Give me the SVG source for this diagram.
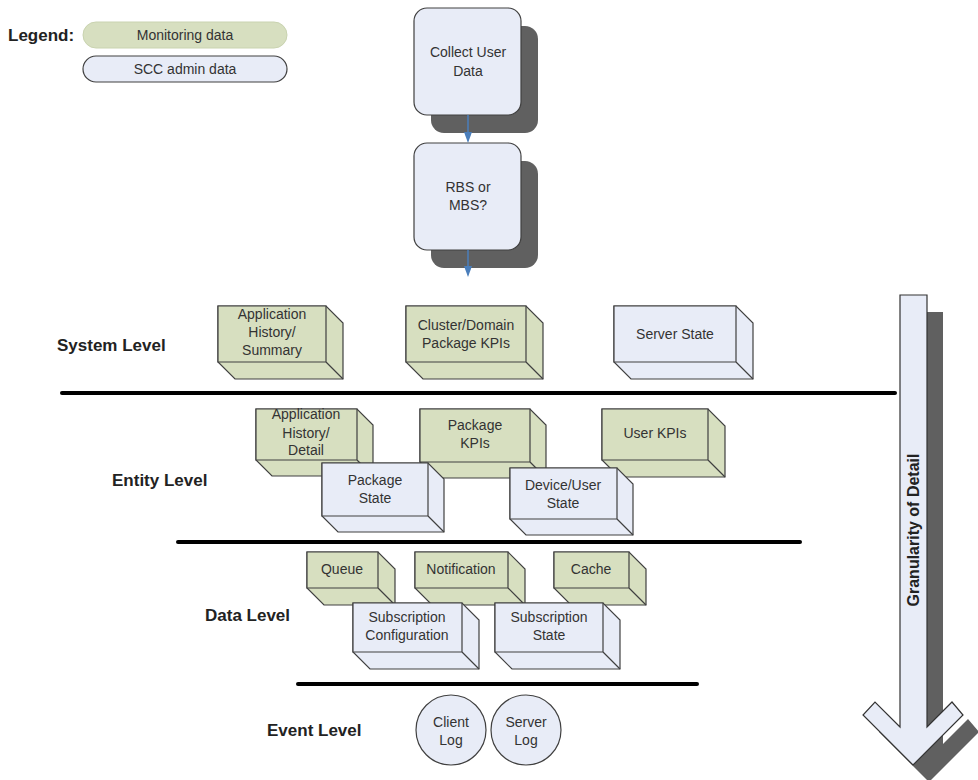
<svg xmlns="http://www.w3.org/2000/svg" width="978" height="780" viewBox="0 0 978 780">
<defs>
<style>
text{font-family:"Liberation Sans",Arial,sans-serif;fill:#333}
.bt{font-size:14px;text-anchor:middle}
.lv{font-size:17px;font-weight:bold;fill:#222}
.g{fill:#d7dfc0;stroke:#404040;stroke-width:1.2}
.b{fill:#e8ecf7;stroke:#404040;stroke-width:1.2}
.sh{fill:#606060}
.hl{stroke:#000;stroke-width:4;stroke-linecap:round}
.ar{stroke:#4a7ebb;stroke-width:1.5;fill:none}
.ah{fill:#4a7ebb}
</style>
</defs>
<rect width="978" height="780" fill="#fff"/>

<g id="legend">
<text x="8" y="41" class="lv">Legend:</text>
<rect x="83" y="22" width="204" height="26" rx="13" fill="#d7dfc0" stroke="#c9d3b0"/>
<text x="185" y="40" class="bt">Monitoring data</text>
<rect x="83" y="56" width="204" height="26" rx="13" class="b"/>
<text x="185" y="74" class="bt">SCC admin data</text>
</g>

<g id="levels">
<line x1="62" y1="393" x2="895" y2="393" class="hl"/>
<line x1="178" y1="542" x2="800" y2="542" class="hl"/>
<line x1="298" y1="684" x2="697" y2="684" class="hl"/>
<text x="57" y="351" class="lv">System Level</text>
<text x="112" y="486" class="lv">Entity Level</text>
<text x="205" y="621" class="lv">Data Level</text>
<text x="267" y="736" class="lv">Event Level</text>
</g>

<g id="collect">
<rect x="431" y="26" width="107" height="107" rx="13" class="sh"/>
<rect x="414" y="8" width="107" height="107" rx="13" class="b"/>
<text x="468" y="57" class="bt">Collect User</text>
<text x="468" y="76" class="bt">Data</text>
</g>
<g id="rbs">
<rect x="431" y="161" width="107" height="107" rx="13" class="sh"/>
<rect x="414" y="143" width="107" height="107" rx="13" class="b"/>
<text x="468" y="192" class="bt">RBS or</text>
<text x="468" y="210" class="bt">MBS?</text>
</g>

<g id="app-summary">
<path class="g" d="M218,306 H326 L343,323 V379 H235 L218,362 Z"/>
<path class="g" d="M218,306 H326 V362 H218 Z M326,362 L343,379"/>
<text x="272" y="319" class="bt">Application</text>
<text x="272" y="337" class="bt">History/</text>
<text x="272" y="355" class="bt">Summary</text>
</g>
<g id="cluster-kpis">
<path class="g" d="M406,306 H526 L543,323 V379 H423 L406,362 Z"/>
<path class="g" d="M406,306 H526 V362 H406 Z M526,362 L543,379"/>
<text x="466" y="330" class="bt">Cluster/Domain</text>
<text x="466" y="348" class="bt">Package KPIs</text>
</g>
<g id="server-state">
<path class="b" d="M614,306 H736 L753,323 V379 H631 L614,362 Z"/>
<path class="b" d="M614,306 H736 V362 H614 Z M736,362 L753,379"/>
<text x="675" y="339" class="bt">Server State</text>
</g>

<g id="app-detail">
<path class="g" d="M256,409 H357 L373,425 V476 H272 L256,460 Z"/>
<path class="g" d="M256,409 H357 V460 H256 Z M357,460 L373,476"/>
<text x="306" y="419" class="bt">Application</text>
<text x="306" y="438" class="bt">History/</text>
<text x="306" y="455" class="bt">Detail</text>
</g>
<g id="package-kpis">
<path class="g" d="M420,409 H530 L546,425 V478 H436 L420,462 Z"/>
<path class="g" d="M420,409 H530 V462 H420 Z M530,462 L546,478"/>
<text x="475" y="430" class="bt">Package</text>
<text x="475" y="448" class="bt">KPIs</text>
</g>
<g id="user-kpis">
<path class="g" d="M602,409 H708 L725,426 V477 H619 L602,460 Z"/>
<path class="g" d="M602,409 H708 V460 H602 Z M708,460 L725,477"/>
<text x="655" y="438" class="bt">User KPIs</text>
</g>
<g id="package-state">
<path class="b" d="M322,463 H428 L444,479 V532 H338 L322,516 Z"/>
<path class="b" d="M322,463 H428 V516 H322 Z M428,516 L444,532"/>
<text x="375" y="485" class="bt">Package</text>
<text x="375" y="503" class="bt">State</text>
</g>
<g id="device-user-state">
<path class="b" d="M510,468 H617 L633,484 V535 H526 L510,519 Z"/>
<path class="b" d="M510,468 H617 V519 H510 Z M617,519 L633,535"/>
<text x="563" y="490" class="bt">Device/User</text>
<text x="563" y="508" class="bt">State</text>
</g>

<g id="queue">
<path class="g" d="M307,552 H378 L395,569 V605 H324 L307,588 Z"/>
<path class="g" d="M307,552 H378 V588 H307 Z M378,588 L395,605"/>
<text x="342" y="574" class="bt">Queue</text>
</g>
<g id="notification">
<path class="g" d="M415,552 H508 L525,569 V605 H432 L415,588 Z"/>
<path class="g" d="M415,552 H508 V588 H415 Z M508,588 L525,605"/>
<text x="461" y="574" class="bt">Notification</text>
</g>
<g id="cache">
<path class="g" d="M554,552 H629 L646,569 V605 H571 L554,588 Z"/>
<path class="g" d="M554,552 H629 V588 H554 Z M629,588 L646,605"/>
<text x="591" y="574" class="bt">Cache</text>
</g>
<g id="subscription-config">
<path class="b" d="M353,603 H462 L479,620 V669 H370 L353,652 Z"/>
<path class="b" d="M353,603 H462 V652 H353 Z M462,652 L479,669"/>
<text x="407" y="622" class="bt">Subscription</text>
<text x="407" y="640" class="bt">Configuration</text>
</g>
<g id="subscription-state">
<path class="b" d="M495,603 H603 L620,620 V669 H512 L495,652 Z"/>
<path class="b" d="M495,603 H603 V652 H495 Z M603,652 L620,669"/>
<text x="549" y="622" class="bt">Subscription</text>
<text x="549" y="640" class="bt">State</text>
</g>

<g id="client-log">
<circle cx="451" cy="730" r="35" class="b"/>
<text x="451" y="727" class="bt">Client</text>
<text x="451" y="745" class="bt">Log</text>
</g>
<g id="server-log">
<circle cx="526" cy="730" r="35" class="b"/>
<text x="526" y="727" class="bt">Server</text>
<text x="526" y="745" class="bt">Log</text>
</g>

<g id="granularity">
<path class="sh" d="M916,312 H943 V744 L968,719 L979,732 L929,782 L879,732 L891,719 L916,744 Z"/>
<path d="M900,295 H927 V727 L952,702 L963,715 L913,765 L863,715 L875,702 L900,727 Z" fill="#e8ecf7" stroke="#333" stroke-width="1.2"/>
<text transform="translate(919 530) rotate(-90)" text-anchor="middle" style="font-size:16px;font-weight:bold;fill:#222">Granularity of Detail</text>
</g>

<g id="connectors">
<line x1="468" y1="115" x2="468" y2="134" class="ar"/>
<path class="ah" d="M464,132 L472,132 L468,143 Z"/>
<line x1="468" y1="250" x2="468" y2="268" class="ar"/>
<path class="ah" d="M464,266 L472,266 L468,277 Z"/>
</g>
</svg>
